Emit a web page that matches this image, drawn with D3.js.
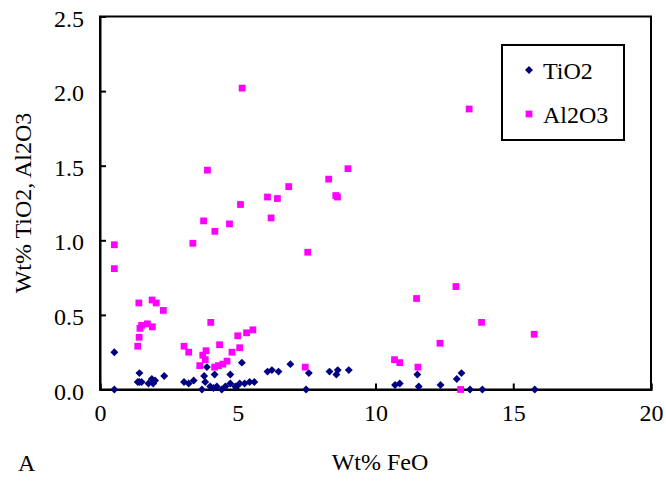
<!DOCTYPE html>
<html>
<head>
<meta charset="utf-8">
<script src="https://cdn.jsdelivr.net/npm/d3@7"></script>
<style>
  body { margin: 0; background: #fff; }
  svg { display: block; }
  text { font-family: "Liberation Serif", "Times New Roman", serif; fill: #000; }
</style>
</head>
<body>
<div id="chart"></div>
<script>
// TiO2 series (Wt% FeO, Wt% TiO2)
const feoTi = [0.52, 0.52, 1.43, 1.37, 1.43, 1.51, 1.76, 1.88, 1.93, 2.0, 2.33, 3.05, 3.22, 3.40,
  3.78, 3.88, 3.70, 3.82, 4.0, 4.12, 4.16, 4.24, 4.42, 4.55, 4.73, 4.73, 4.91, 5.07, 5.15, 5.25,
  5.43, 5.6, 6.08, 6.24, 6.48, 6.91, 7.48, 7.58, 8.33, 8.58, 8.63, 9.03, 10.71, 10.88, 11.52,
  11.57, 12.36, 12.95, 13.12, 13.43, 13.88, 15.78];
const tio2 = [0.25, 0.0, 0.11, 0.05, 0.05, 0.05, 0.04, 0.07, 0.04, 0.06, 0.09, 0.05, 0.04, 0.06,
  0.09, 0.15, 0.0, 0.05, 0.02, 0.01, 0.10, 0.02, 0.0, 0.02, 0.10, 0.04, 0.02, 0.04, 0.18, 0.04,
  0.05, 0.05, 0.12, 0.13, 0.12, 0.17, 0.0, 0.11, 0.12, 0.10, 0.13, 0.13, 0.03, 0.04, 0.10,
  0.02, 0.03, 0.07, 0.11, 0.0, 0.0, 0.0];

// Al2O3 series (Wt% FeO, Wt% Al2O3)
const feoAl = [0.52, 0.52, 1.41, 1.89, 2.04, 2.30, 1.51, 1.45, 1.72, 1.90, 1.42, 1.37, 3.05, 3.22,
  4.02, 3.85, 3.73, 3.82, 3.62, 4.34, 4.79, 5.07, 5.0, 5.32, 5.55, 4.16, 4.30, 4.46, 4.61, 3.37,
  3.76, 3.90, 4.17, 4.70, 5.10, 5.16, 6.08, 6.21, 6.44, 6.85, 7.45, 7.54, 8.30, 8.56, 8.62, 9.0,
  10.69, 10.88, 11.49, 11.54, 12.34, 12.92, 13.09, 13.4, 13.85, 15.76];
const al2o3 = [0.97, 0.81, 0.58, 0.60, 0.58, 0.53, 0.43, 0.41, 0.44, 0.42, 0.35, 0.29, 0.29, 0.25,
  0.45, 0.26, 0.23, 0.20, 0.16, 0.30, 0.25, 0.28, 0.36, 0.38, 0.40, 0.15, 0.16, 0.17, 0.19, 0.98,
  1.13, 1.47, 1.06, 1.11, 1.24, 2.02, 1.29, 1.15, 1.28, 1.36, 0.15, 0.92, 1.41, 1.30, 1.29, 1.48,
  0.20, 0.18, 0.61, 0.15, 0.31, 0.69, 0.0, 1.88, 0.45, 0.37];

const xTicks = [0, 5, 10, 15, 20];
const yTicks = [0, 0.5, 1.0, 1.5, 2.0, 2.5];
const seriesNames = ["TiO2", "Al2O3"];

const width = 666, height = 489;
const margin = { left: 100, right: 15, top: 16.5, bottom: 99.5 };

const svg = d3.select("#chart").append("svg")
  .attr("width", width)
  .attr("height", height);

const x = d3.scaleLinear().domain([0, 20]).range([margin.left, width - margin.right]);
const y = d3.scaleLinear().domain([0, 2.5]).range([height - margin.bottom, margin.top]);

// plot frame
svg.append("rect")
  .attr("x", x(0)).attr("y", y(2.5))
  .attr("width", x(20) - x(0)).attr("height", y(0) - y(2.5))
  .attr("fill", "none").attr("stroke", "#000").attr("stroke-width", 2);

// axes with inward ticks
const xAxis = svg.append("g")
  .attr("transform", `translate(0,${y(0)})`)
  .call(d3.axisBottom(x).tickValues(xTicks).tickSize(-6).tickPadding(14).tickFormat(d3.format("d")));
const yAxis = svg.append("g")
  .attr("transform", `translate(${x(0)},0)`)
  .call(d3.axisLeft(y).tickValues(yTicks).tickSize(-6).tickPadding(16).tickFormat(d3.format(".1f")));

[xAxis, yAxis].forEach(g => {
  g.select(".domain").attr("stroke", "#000").attr("stroke-width", 2);
  g.selectAll(".tick line").attr("stroke", "#000").attr("stroke-width", 2);
  g.selectAll(".tick text")
    .style("font-family", "'Liberation Serif', serif")
    .style("font-size", "24px")
    .attr("fill", "#000");
});
yAxis.selectAll(".tick text").attr("dy", "0.4em");

// markers
const diamond = d3.symbol().type(d3.symbolDiamond2).size(40);
const square = d3.symbol().type(d3.symbolSquare).size(46);

svg.append("g").selectAll("path")
  .data(d3.zip(feoTi, tio2))
  .join("path")
  .attr("d", diamond)
  .attr("transform", d => `translate(${x(d[0])},${y(d[1])})`)
  .attr("fill", "#000080");

svg.append("g").selectAll("path")
  .data(d3.zip(feoAl, al2o3))
  .join("path")
  .attr("d", square)
  .attr("transform", d => `translate(${x(d[0])},${y(d[1])})`)
  .attr("fill", "#ff00ff");

// axis titles
svg.append("text")
  .attr("x", 380).attr("y", 470)
  .attr("text-anchor", "middle")
  .style("font-size", "24px")
  .text("Wt% FeO");

svg.append("text")
  .attr("transform", "translate(31,203) rotate(-90)")
  .attr("text-anchor", "middle")
  .style("font-size", "24px")
  .text("Wt% TiO2, Al2O3");

svg.append("text")
  .attr("x", 18).attr("y", 471)
  .style("font-size", "24px")
  .text("A");

// legend
const legend = svg.append("g");
legend.append("rect")
  .attr("x", 502).attr("y", 45).attr("width", 122).attr("height", 95)
  .attr("fill", "#fff").attr("stroke", "#000").attr("stroke-width", 2);

const legendRows = legend.selectAll("g.item")
  .data(seriesNames)
  .join("g")
  .attr("class", "item")
  .attr("transform", (d, i) => `translate(529,${70 + i * 44})`);

legendRows.append("path")
  .attr("d", (d, i) => i === 0 ? diamond() : square())
  .attr("fill", (d, i) => i === 0 ? "#000080" : "#ff00ff");

legendRows.append("text")
  .attr("x", 14).attr("y", 9)
  .style("font-size", "24px")
  .text(d => d);
</script>
</body>
</html>
